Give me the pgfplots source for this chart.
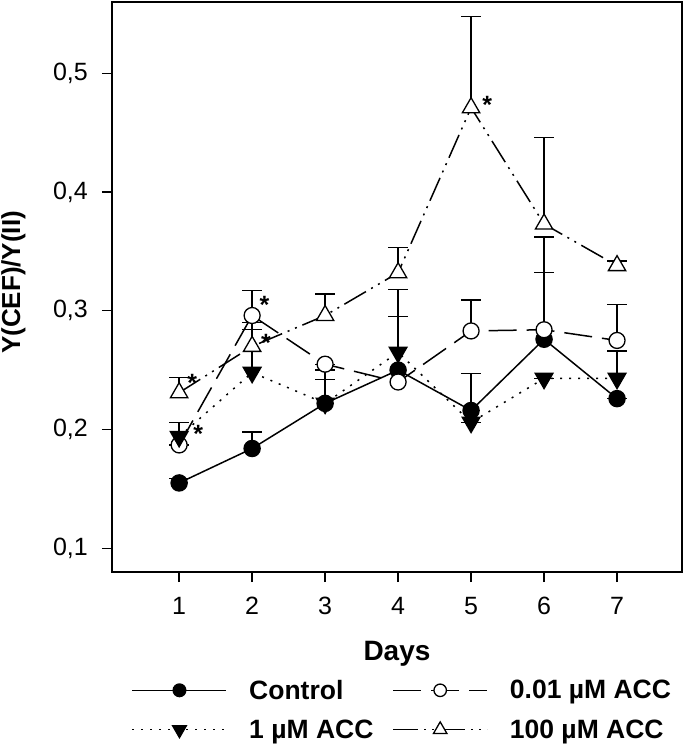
\documentclass[border=0pt]{standalone}
\usepackage{fontspec}
\setmainfont{Liberation Sans}
\usepackage{pgfplots}
\pgfplotsset{compat=1.18}
\usepackage{pgfplotstable}

\pgfplotstableread{
x y e
1 0.155 0.004
2 0.184 0.014
3 0.222 0.020
4 0.250 0.045
5 0.216 0.031
6 0.276 0.056
7 0.226 0.000
}\ctrl
\pgfplotstableread{
x y e
1 0.187 0.000
2 0.296 0.021
3 0.255 0.000
4 0.240 0.078
5 0.283 0.026
6 0.284 0.078
7 0.275 0.030
}\acca
\pgfplotstableread{
x y e
1 0.194 0.012
2 0.248 0.036
3 0.222 0.028
4 0.265 0.030
5 0.206 0.000
6 0.243 0.000
7 0.243 0.023
}\accb
\pgfplotstableread{
x y e
1 0.231 0.013
2 0.270 0.020
3 0.296 0.018
4 0.332 0.021
5 0.471 0.077
6 0.373 0.073
7 0.338 0.004
}\accc

\begin{document}
\begin{tikzpicture}
\useasboundingbox (-112pt,-172pt) rectangle (573pt,572pt);
\begin{axis}[
  at={(0pt,0pt)}, anchor=south west,
  scale only axis, width=570pt, height=570pt,
  xmin=0.08, xmax=7.89, ymin=0.08, ymax=0.56,
  xtick={1,2,3,4,5,6,7}, ytick={0.1,0.2,0.3,0.4,0.5},
  tick align=outside, tick pos=left,
  major tick length=10pt,
  axis line style={line width=1.5pt},
  every tick/.style={line width=1.3pt, black},
  /pgf/number format/assume math mode=true,
  yticklabel style={/pgf/number format/use comma, /pgf/number format/fixed,
    /pgf/number format/fixed zerofill, /pgf/number format/precision=1,
    inner sep=0pt},
  yticklabel shift=14pt,
  xticklabel style={inner sep=0pt},
  xticklabel shift=15pt,
  tick label style={font=\fontsize{25}{30}\selectfont},
  xlabel={Days}, ylabel={Y(CEF)/Y(II)},
  xlabel style={font=\fontsize{28}{32}\selectfont\bfseries, at={(axis description cs:0.5,-0.143)}, anchor=center},
  ylabel style={font=\fontsize{26}{30}\selectfont\bfseries, at={(axis description cs:-0.173,0.508)}, anchor=center},
  legend columns=2,
  legend cell align=left,
  legend style={draw=none, fill=none, at={(axis description cs:0.029,-0.182)}, anchor=north west,
    font=\fontsize{26.5}{31}\selectfont\bfseries,
    /tikz/every odd column/.append style={column sep=20pt},
    /tikz/every even column/.append style={column sep=17pt},
    row sep=15pt},
  legend image code/.code={\draw[mark repeat=2,mark phase=2,#1,every mark/.append style={scale=0.78}] plot coordinates {(0pt,0pt)(47pt,0pt)(94pt,0pt)};},
  error bars/error bar style={line width=1.3pt, solid, black},
  error bars/error mark options={rotate=90, line width=1.3pt, mark size=10pt, black, solid},
]
\addplot[black, line width=1.5pt, mark=*, mark size=8pt, mark options={solid, fill=black},
  error bars/.cd, y dir=plus, y explicit]
  table[x=x, y=y, y error=e] {\ctrl};
\addlegendentry{Control}
\addplot[black, line width=1.5pt, dash pattern=on 28pt off 10pt, mark=*, mark size=8pt, mark options={solid, fill=white, line width=1.3pt},
  error bars/.cd, y dir=plus, y explicit]
  table[x=x, y=y, y error=e] {\acca};
\addlegendentry{0.01 µM ACC}
\addplot[black, line width=1.5pt, dash pattern=on 2pt off 7pt, mark=triangle*, mark size=10pt, mark options={solid, fill=black, rotate=180},
  error bars/.cd, y dir=plus, y explicit]
  table[x=x, y=y, y error=e] {\accb};
\addlegendentry{1 µM ACC}
\addplot[black, line width=1.5pt, dash pattern=on 25pt off 6pt on 2pt off 6pt on 2pt off 6pt, mark=triangle*, mark size=10pt, mark options={solid, fill=white, line width=1.3pt},
  error bars/.cd, y dir=plus, y explicit]
  table[x=x, y=y, y error=e] {\accc};
\addlegendentry{100 µM ACC}
\node[font=\fontsize{25}{30}\selectfont\bfseries] at (axis cs:1.18,0.239) {*};
\node[font=\fontsize{25}{30}\selectfont\bfseries] at (axis cs:1.26,0.196) {*};
\node[font=\fontsize{25}{30}\selectfont\bfseries] at (axis cs:2.17,0.305) {*};
\node[font=\fontsize{25}{30}\selectfont\bfseries] at (axis cs:2.19,0.273) {*};
\node[font=\fontsize{25}{30}\selectfont\bfseries] at (axis cs:5.22,0.473) {*};
\end{axis}
\end{tikzpicture}
\end{document}
